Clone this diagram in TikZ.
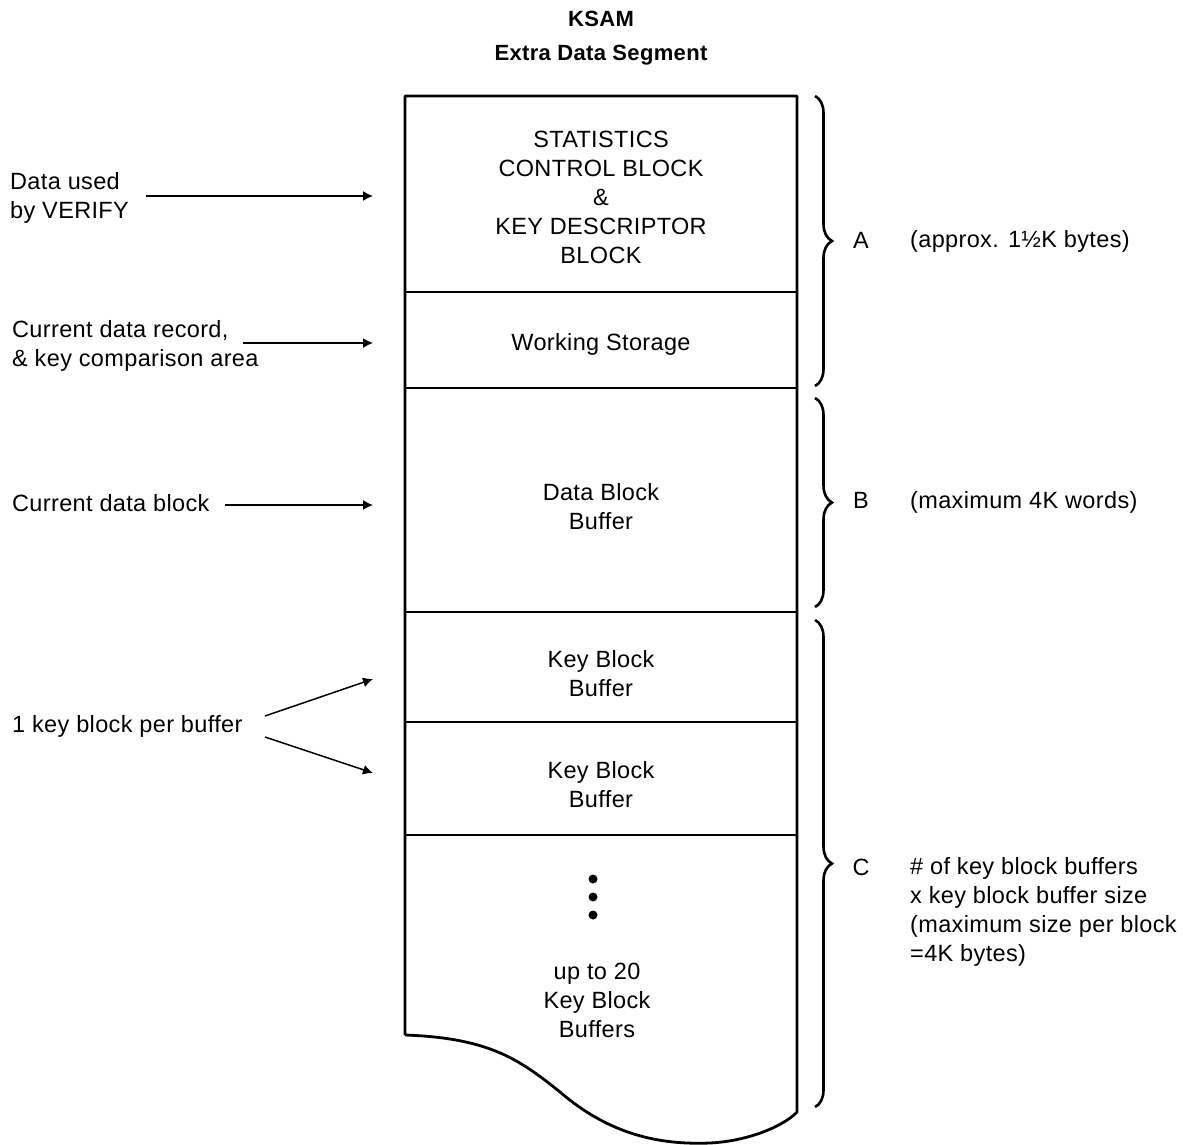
\documentclass[tikz,border=0pt]{standalone}
\usepackage{fontspec}
\setmainfont{Liberation Sans}[LetterSpace=1.5]
\usetikzlibrary{arrows.meta,decorations.pathreplacing}
\begin{document}
\begin{tikzpicture}[x=1pt,y=-1pt,
  txt/.style={font=\fontsize{23.5}{29}\selectfont, inner sep=0pt, align=center},
  ltxt/.style={font=\fontsize{23.5}{29}\selectfont, inner sep=0pt, align=left, anchor=west},
  ttl/.style={font=\fontsize{22}{28}\selectfont\bfseries, inner sep=0pt},
  outline/.style={line width=2.8pt, line join=round},
  ptr/.style={line width=1.5pt, -{Latex[length=10pt,width=10pt]}},
  brc/.style={line width=2.6pt, decorate, decoration={brace, amplitude=17pt}},
]
\useasboundingbox (0,0) rectangle (1183,1145);

% title
\node[ttl] (t1) at (601,19) {KSAM};
\node[ttl] (t2) at (601,55) {Extra Data Segment};

% segment outline with torn bottom edge
\draw[outline] (405,1035) -- (405,96) -- (797,96) -- (797,1112)
  .. controls (785,1125) and (750,1141) .. (710,1143)
  .. controls (660,1145) and (610,1135) .. (560,1092)
  .. controls (520,1060) and (490,1038) .. (405,1035);
\foreach \yy in {292,388,612,722,835}
  \draw[outline] (405,\yy) -- (797,\yy);

% contents of the segment
\node[txt] (scb) at (601,197) {STATISTICS\\CONTROL BLOCK\\\&\\KEY DESCRIPTOR\\BLOCK};
\node[txt] (ws)  at (601,344) {Working Storage};
\node[txt] (dbb) at (601,507) {Data Block\\Buffer};
\node[txt] (kb1) at (601,674) {Key Block\\Buffer};
\node[txt] (kb2) at (601,785) {Key Block\\Buffer};
\foreach \yy in {879,897,915} \fill (593,\yy) circle (4.5pt);
\node[txt] (kbn) at (597,1000) {up to 20\\Key Block\\Buffers};

% left-hand descriptions
\node[ltxt] (l1) at (10,198) {Data used\\by VERIFY};
\node[ltxt] (l2) at (12,346) {Current data record,\\\& key comparison area};
\node[ltxt] (l3) at (12,503) {Current data block};
\node[ltxt] (l4) at (12,726) {1 key block per buffer};

\coordinate (e1) at (373,196);
\coordinate (e2) at (373,343);
\coordinate (e3) at (373,505);
\coordinate (e4) at (373,679);
\coordinate (e5) at (373,773);
\coordinate (s1) at (146,196);
\coordinate (s2) at (243,343);
\coordinate (s3) at (225,505);
\coordinate (s4a) at (265,716);
\coordinate (s4b) at (265,737);

\draw[ptr] (s1) -- (e1);
\draw[ptr] (s2) -- (e2);
\draw[ptr] (s3) -- (e3);
\draw[ptr] (s4a) -- (e4);
\draw[ptr] (s4b) -- (e5);

% braces and sizes
\draw[brc] (815,96) -- (815,386);
\draw[brc] (815,398) -- (815,607);
\draw[brc] (815,620) -- (815,1107);

\node[txt] (ba) at (861,240) {A};
\node[txt] (bb) at (861,500) {B};
\node[txt] (bc) at (861,867) {C};
\node[ltxt] (sa) at (910,241) {(approx. 1½K bytes)};
\node[ltxt] (sb) at (910,502) {(maximum 4K words)};
\node[ltxt] (sc) at (910,912) {\# of key block buffers\\x key block buffer size\\(maximum size per block\\=4K bytes)};
\end{tikzpicture}
\end{document}
